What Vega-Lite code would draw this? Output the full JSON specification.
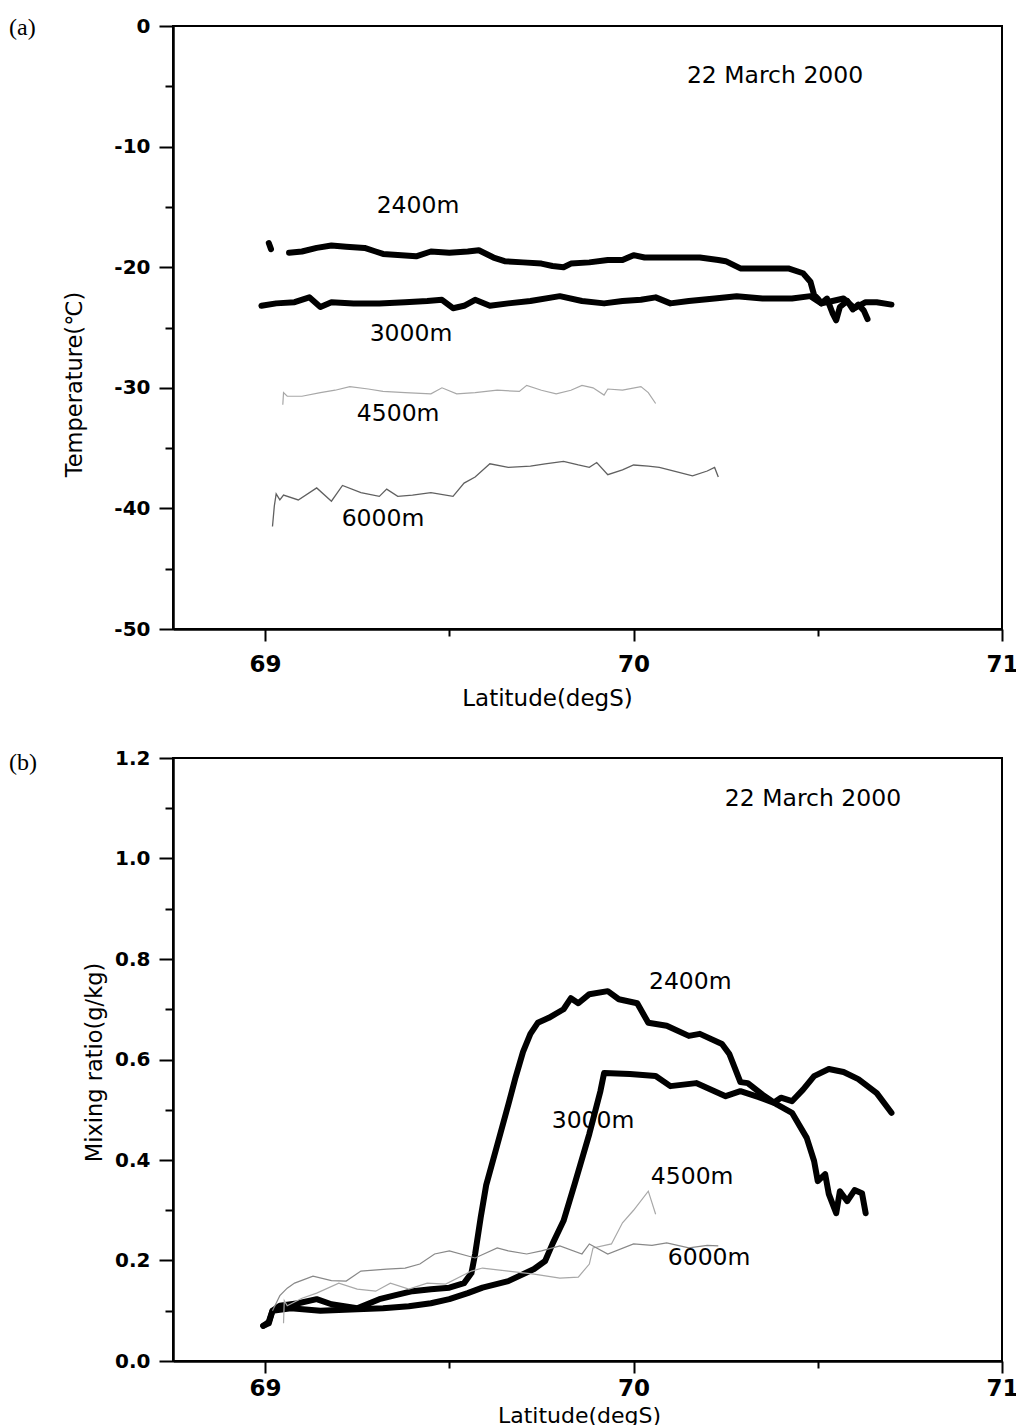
{
"$schema": "https://vega.github.io/schema/vega-lite/v6.json",
"background": "white",
"padding": {"left": 8, "top": 15, "right": 0, "bottom": 0},
"autosize": {"type": "pad"},
"spacing": 129,
"bounds": "flush",
"config": {
  "font": "DejaVu Sans",
  "view": {"stroke": "black", "strokeWidth": 2},
  "axis": {"grid": false, "labelFont": "DejaVu Sans", "labelFontWeight": "bold", "labelFontSize": 20, "labelColor": "black",
    "titleFont": "DejaVu Sans", "titleFontWeight": "normal", "titleFontSize": 22.5, "titleColor": "black",
    "domainColor": "black", "domainWidth": 2.5, "tickColor": "black", "tickWidth": 2, "labelFlush": false, "labelOverlap": false, "labelBound": false}
},
"datasets": {
"ta": [
{"s":"2400m","g":"2400a","lat":69.010,"v":-18.0},{"s":"2400m","g":"2400a","lat":69.016,"v":-18.5},
{"s":"2400m","g":"2400b","lat":69.065,"v":-18.8},{"s":"2400m","g":"2400b","lat":69.10,"v":-18.7},{"s":"2400m","g":"2400b","lat":69.14,"v":-18.4},{"s":"2400m","g":"2400b","lat":69.18,"v":-18.2},{"s":"2400m","g":"2400b","lat":69.22,"v":-18.3},{"s":"2400m","g":"2400b","lat":69.27,"v":-18.4},{"s":"2400m","g":"2400b","lat":69.30,"v":-18.7},{"s":"2400m","g":"2400b","lat":69.32,"v":-18.9},{"s":"2400m","g":"2400b","lat":69.37,"v":-19.0},{"s":"2400m","g":"2400b","lat":69.41,"v":-19.1},{"s":"2400m","g":"2400b","lat":69.45,"v":-18.7},{"s":"2400m","g":"2400b","lat":69.50,"v":-18.8},{"s":"2400m","g":"2400b","lat":69.55,"v":-18.7},{"s":"2400m","g":"2400b","lat":69.58,"v":-18.6},{"s":"2400m","g":"2400b","lat":69.62,"v":-19.2},{"s":"2400m","g":"2400b","lat":69.65,"v":-19.5},{"s":"2400m","g":"2400b","lat":69.70,"v":-19.6},{"s":"2400m","g":"2400b","lat":69.75,"v":-19.7},{"s":"2400m","g":"2400b","lat":69.78,"v":-19.9},{"s":"2400m","g":"2400b","lat":69.81,"v":-20.0},{"s":"2400m","g":"2400b","lat":69.83,"v":-19.7},{"s":"2400m","g":"2400b","lat":69.88,"v":-19.6},{"s":"2400m","g":"2400b","lat":69.93,"v":-19.4},{"s":"2400m","g":"2400b","lat":69.97,"v":-19.4},{"s":"2400m","g":"2400b","lat":70.00,"v":-19.0},{"s":"2400m","g":"2400b","lat":70.03,"v":-19.2},{"s":"2400m","g":"2400b","lat":70.10,"v":-19.2},{"s":"2400m","g":"2400b","lat":70.18,"v":-19.2},{"s":"2400m","g":"2400b","lat":70.23,"v":-19.4},{"s":"2400m","g":"2400b","lat":70.25,"v":-19.5},{"s":"2400m","g":"2400b","lat":70.29,"v":-20.1},{"s":"2400m","g":"2400b","lat":70.35,"v":-20.1},{"s":"2400m","g":"2400b","lat":70.42,"v":-20.1},{"s":"2400m","g":"2400b","lat":70.46,"v":-20.5},{"s":"2400m","g":"2400b","lat":70.48,"v":-21.2},{"s":"2400m","g":"2400b","lat":70.49,"v":-22.3},{"s":"2400m","g":"2400b","lat":70.50,"v":-22.6},{"s":"2400m","g":"2400b","lat":70.51,"v":-23.0},{"s":"2400m","g":"2400b","lat":70.525,"v":-22.6},{"s":"2400m","g":"2400b","lat":70.54,"v":-23.8},{"s":"2400m","g":"2400b","lat":70.55,"v":-24.4},{"s":"2400m","g":"2400b","lat":70.56,"v":-23.3},{"s":"2400m","g":"2400b","lat":70.58,"v":-22.8},{"s":"2400m","g":"2400b","lat":70.595,"v":-23.5},{"s":"2400m","g":"2400b","lat":70.61,"v":-23.1},{"s":"2400m","g":"2400b","lat":70.625,"v":-23.6},{"s":"2400m","g":"2400b","lat":70.635,"v":-24.3},
{"s":"3000m","g":"3000","lat":68.99,"v":-23.2},{"s":"3000m","g":"3000","lat":69.03,"v":-23.0},{"s":"3000m","g":"3000","lat":69.08,"v":-22.9},{"s":"3000m","g":"3000","lat":69.12,"v":-22.5},{"s":"3000m","g":"3000","lat":69.15,"v":-23.3},{"s":"3000m","g":"3000","lat":69.18,"v":-22.9},{"s":"3000m","g":"3000","lat":69.24,"v":-23.0},{"s":"3000m","g":"3000","lat":69.31,"v":-23.0},{"s":"3000m","g":"3000","lat":69.38,"v":-22.9},{"s":"3000m","g":"3000","lat":69.44,"v":-22.8},{"s":"3000m","g":"3000","lat":69.48,"v":-22.7},{"s":"3000m","g":"3000","lat":69.51,"v":-23.4},{"s":"3000m","g":"3000","lat":69.54,"v":-23.2},{"s":"3000m","g":"3000","lat":69.57,"v":-22.7},{"s":"3000m","g":"3000","lat":69.61,"v":-23.2},{"s":"3000m","g":"3000","lat":69.66,"v":-23.0},{"s":"3000m","g":"3000","lat":69.72,"v":-22.8},{"s":"3000m","g":"3000","lat":69.80,"v":-22.4},{"s":"3000m","g":"3000","lat":69.86,"v":-22.8},{"s":"3000m","g":"3000","lat":69.92,"v":-23.0},{"s":"3000m","g":"3000","lat":69.97,"v":-22.8},{"s":"3000m","g":"3000","lat":70.02,"v":-22.7},{"s":"3000m","g":"3000","lat":70.06,"v":-22.5},{"s":"3000m","g":"3000","lat":70.10,"v":-23.0},{"s":"3000m","g":"3000","lat":70.15,"v":-22.8},{"s":"3000m","g":"3000","lat":70.22,"v":-22.6},{"s":"3000m","g":"3000","lat":70.28,"v":-22.4},{"s":"3000m","g":"3000","lat":70.35,"v":-22.6},{"s":"3000m","g":"3000","lat":70.43,"v":-22.6},{"s":"3000m","g":"3000","lat":70.48,"v":-22.4},{"s":"3000m","g":"3000","lat":70.51,"v":-23.0},{"s":"3000m","g":"3000","lat":70.54,"v":-22.8},{"s":"3000m","g":"3000","lat":70.57,"v":-22.6},{"s":"3000m","g":"3000","lat":70.60,"v":-23.4},{"s":"3000m","g":"3000","lat":70.63,"v":-22.9},{"s":"3000m","g":"3000","lat":70.66,"v":-22.9},{"s":"3000m","g":"3000","lat":70.70,"v":-23.1},
{"s":"4500m","g":"4500","lat":69.048,"v":-31.4},{"s":"4500m","g":"4500","lat":69.050,"v":-30.4},{"s":"4500m","g":"4500","lat":69.06,"v":-30.7},{"s":"4500m","g":"4500","lat":69.10,"v":-30.7},{"s":"4500m","g":"4500","lat":69.15,"v":-30.4},{"s":"4500m","g":"4500","lat":69.19,"v":-30.2},{"s":"4500m","g":"4500","lat":69.23,"v":-29.9},{"s":"4500m","g":"4500","lat":69.28,"v":-30.1},{"s":"4500m","g":"4500","lat":69.32,"v":-30.3},{"s":"4500m","g":"4500","lat":69.38,"v":-30.4},{"s":"4500m","g":"4500","lat":69.45,"v":-30.5},{"s":"4500m","g":"4500","lat":69.48,"v":-30.0},{"s":"4500m","g":"4500","lat":69.52,"v":-30.5},{"s":"4500m","g":"4500","lat":69.57,"v":-30.4},{"s":"4500m","g":"4500","lat":69.63,"v":-30.2},{"s":"4500m","g":"4500","lat":69.69,"v":-30.3},{"s":"4500m","g":"4500","lat":69.71,"v":-29.8},{"s":"4500m","g":"4500","lat":69.75,"v":-30.2},{"s":"4500m","g":"4500","lat":69.79,"v":-30.5},{"s":"4500m","g":"4500","lat":69.83,"v":-30.2},{"s":"4500m","g":"4500","lat":69.86,"v":-29.8},{"s":"4500m","g":"4500","lat":69.89,"v":-30.0},{"s":"4500m","g":"4500","lat":69.92,"v":-30.6},{"s":"4500m","g":"4500","lat":69.93,"v":-30.1},{"s":"4500m","g":"4500","lat":69.97,"v":-30.2},{"s":"4500m","g":"4500","lat":70.02,"v":-29.9},{"s":"4500m","g":"4500","lat":70.04,"v":-30.4},{"s":"4500m","g":"4500","lat":70.06,"v":-31.3},
{"s":"6000m","g":"6000","lat":69.020,"v":-41.5},{"s":"6000m","g":"6000","lat":69.025,"v":-39.8},{"s":"6000m","g":"6000","lat":69.030,"v":-38.8},{"s":"6000m","g":"6000","lat":69.040,"v":-39.3},{"s":"6000m","g":"6000","lat":69.05,"v":-38.9},{"s":"6000m","g":"6000","lat":69.09,"v":-39.3},{"s":"6000m","g":"6000","lat":69.14,"v":-38.3},{"s":"6000m","g":"6000","lat":69.18,"v":-39.4},{"s":"6000m","g":"6000","lat":69.21,"v":-38.1},{"s":"6000m","g":"6000","lat":69.26,"v":-38.7},{"s":"6000m","g":"6000","lat":69.31,"v":-39.0},{"s":"6000m","g":"6000","lat":69.33,"v":-38.4},{"s":"6000m","g":"6000","lat":69.36,"v":-39.0},{"s":"6000m","g":"6000","lat":69.40,"v":-38.9},{"s":"6000m","g":"6000","lat":69.45,"v":-38.7},{"s":"6000m","g":"6000","lat":69.51,"v":-39.0},{"s":"6000m","g":"6000","lat":69.54,"v":-37.9},{"s":"6000m","g":"6000","lat":69.57,"v":-37.4},{"s":"6000m","g":"6000","lat":69.61,"v":-36.3},{"s":"6000m","g":"6000","lat":69.66,"v":-36.6},{"s":"6000m","g":"6000","lat":69.72,"v":-36.5},{"s":"6000m","g":"6000","lat":69.76,"v":-36.3},{"s":"6000m","g":"6000","lat":69.81,"v":-36.1},{"s":"6000m","g":"6000","lat":69.85,"v":-36.4},{"s":"6000m","g":"6000","lat":69.88,"v":-36.6},{"s":"6000m","g":"6000","lat":69.90,"v":-36.2},{"s":"6000m","g":"6000","lat":69.93,"v":-37.2},{"s":"6000m","g":"6000","lat":69.97,"v":-36.8},{"s":"6000m","g":"6000","lat":70.00,"v":-36.4},{"s":"6000m","g":"6000","lat":70.04,"v":-36.5},{"s":"6000m","g":"6000","lat":70.07,"v":-36.6},{"s":"6000m","g":"6000","lat":70.11,"v":-36.9},{"s":"6000m","g":"6000","lat":70.16,"v":-37.3},{"s":"6000m","g":"6000","lat":70.20,"v":-36.9},{"s":"6000m","g":"6000","lat":70.22,"v":-36.6},{"s":"6000m","g":"6000","lat":70.23,"v":-37.4}
],
"tb": [
{"s":"2400m","g":"2400","lat":68.995,"v":0.070},{"s":"2400m","g":"2400","lat":69.01,"v":0.075},{"s":"2400m","g":"2400","lat":69.02,"v":0.100},{"s":"2400m","g":"2400","lat":69.04,"v":0.110},{"s":"2400m","g":"2400","lat":69.09,"v":0.115},{"s":"2400m","g":"2400","lat":69.14,"v":0.123},{"s":"2400m","g":"2400","lat":69.18,"v":0.113},{"s":"2400m","g":"2400","lat":69.25,"v":0.105},{"s":"2400m","g":"2400","lat":69.31,"v":0.123},{"s":"2400m","g":"2400","lat":69.36,"v":0.132},{"s":"2400m","g":"2400","lat":69.40,"v":0.139},{"s":"2400m","g":"2400","lat":69.45,"v":0.143},{"s":"2400m","g":"2400","lat":69.50,"v":0.146},{"s":"2400m","g":"2400","lat":69.54,"v":0.155},{"s":"2400m","g":"2400","lat":69.56,"v":0.175},{"s":"2400m","g":"2400","lat":69.57,"v":0.213},{"s":"2400m","g":"2400","lat":69.585,"v":0.285},{"s":"2400m","g":"2400","lat":69.60,"v":0.350},{"s":"2400m","g":"2400","lat":69.63,"v":0.430},{"s":"2400m","g":"2400","lat":69.66,"v":0.510},{"s":"2400m","g":"2400","lat":69.68,"v":0.565},{"s":"2400m","g":"2400","lat":69.70,"v":0.615},{"s":"2400m","g":"2400","lat":69.72,"v":0.651},{"s":"2400m","g":"2400","lat":69.74,"v":0.673},{"s":"2400m","g":"2400","lat":69.77,"v":0.683},{"s":"2400m","g":"2400","lat":69.81,"v":0.700},{"s":"2400m","g":"2400","lat":69.83,"v":0.722},{"s":"2400m","g":"2400","lat":69.85,"v":0.712},{"s":"2400m","g":"2400","lat":69.88,"v":0.730},{"s":"2400m","g":"2400","lat":69.93,"v":0.736},{"s":"2400m","g":"2400","lat":69.96,"v":0.720},{"s":"2400m","g":"2400","lat":70.01,"v":0.712},{"s":"2400m","g":"2400","lat":70.04,"v":0.673},{"s":"2400m","g":"2400","lat":70.09,"v":0.667},{"s":"2400m","g":"2400","lat":70.15,"v":0.647},{"s":"2400m","g":"2400","lat":70.18,"v":0.651},{"s":"2400m","g":"2400","lat":70.24,"v":0.631},{"s":"2400m","g":"2400","lat":70.26,"v":0.611},{"s":"2400m","g":"2400","lat":70.29,"v":0.555},{"s":"2400m","g":"2400","lat":70.31,"v":0.553},{"s":"2400m","g":"2400","lat":70.35,"v":0.530},{"s":"2400m","g":"2400","lat":70.39,"v":0.510},{"s":"2400m","g":"2400","lat":70.43,"v":0.494},{"s":"2400m","g":"2400","lat":70.47,"v":0.444},{"s":"2400m","g":"2400","lat":70.49,"v":0.398},{"s":"2400m","g":"2400","lat":70.50,"v":0.358},{"s":"2400m","g":"2400","lat":70.52,"v":0.372},{"s":"2400m","g":"2400","lat":70.53,"v":0.332},{"s":"2400m","g":"2400","lat":70.55,"v":0.294},{"s":"2400m","g":"2400","lat":70.56,"v":0.338},{"s":"2400m","g":"2400","lat":70.58,"v":0.318},{"s":"2400m","g":"2400","lat":70.60,"v":0.340},{"s":"2400m","g":"2400","lat":70.62,"v":0.334},{"s":"2400m","g":"2400","lat":70.63,"v":0.294},
{"s":"3000m","g":"3000","lat":68.995,"v":0.070},{"s":"3000m","g":"3000","lat":69.01,"v":0.078},{"s":"3000m","g":"3000","lat":69.02,"v":0.100},{"s":"3000m","g":"3000","lat":69.07,"v":0.105},{"s":"3000m","g":"3000","lat":69.15,"v":0.100},{"s":"3000m","g":"3000","lat":69.25,"v":0.103},{"s":"3000m","g":"3000","lat":69.32,"v":0.105},{"s":"3000m","g":"3000","lat":69.39,"v":0.109},{"s":"3000m","g":"3000","lat":69.45,"v":0.115},{"s":"3000m","g":"3000","lat":69.50,"v":0.123},{"s":"3000m","g":"3000","lat":69.55,"v":0.135},{"s":"3000m","g":"3000","lat":69.59,"v":0.146},{"s":"3000m","g":"3000","lat":69.66,"v":0.159},{"s":"3000m","g":"3000","lat":69.73,"v":0.183},{"s":"3000m","g":"3000","lat":69.76,"v":0.199},{"s":"3000m","g":"3000","lat":69.78,"v":0.233},{"s":"3000m","g":"3000","lat":69.81,"v":0.279},{"s":"3000m","g":"3000","lat":69.84,"v":0.352},{"s":"3000m","g":"3000","lat":69.88,"v":0.452},{"s":"3000m","g":"3000","lat":69.91,"v":0.537},{"s":"3000m","g":"3000","lat":69.92,"v":0.573},{"s":"3000m","g":"3000","lat":69.99,"v":0.571},{"s":"3000m","g":"3000","lat":70.06,"v":0.567},{"s":"3000m","g":"3000","lat":70.10,"v":0.547},{"s":"3000m","g":"3000","lat":70.17,"v":0.553},{"s":"3000m","g":"3000","lat":70.25,"v":0.527},{"s":"3000m","g":"3000","lat":70.29,"v":0.537},{"s":"3000m","g":"3000","lat":70.34,"v":0.525},{"s":"3000m","g":"3000","lat":70.38,"v":0.514},{"s":"3000m","g":"3000","lat":70.40,"v":0.524},{"s":"3000m","g":"3000","lat":70.43,"v":0.517},{"s":"3000m","g":"3000","lat":70.46,"v":0.540},{"s":"3000m","g":"3000","lat":70.49,"v":0.567},{"s":"3000m","g":"3000","lat":70.53,"v":0.581},{"s":"3000m","g":"3000","lat":70.57,"v":0.575},{"s":"3000m","g":"3000","lat":70.61,"v":0.561},{"s":"3000m","g":"3000","lat":70.66,"v":0.533},{"s":"3000m","g":"3000","lat":70.70,"v":0.494},
{"s":"4500m","g":"4500","lat":69.050,"v":0.075},{"s":"4500m","g":"4500","lat":69.052,"v":0.120},{"s":"4500m","g":"4500","lat":69.06,"v":0.110},{"s":"4500m","g":"4500","lat":69.10,"v":0.125},{"s":"4500m","g":"4500","lat":69.14,"v":0.135},{"s":"4500m","g":"4500","lat":69.20,"v":0.155},{"s":"4500m","g":"4500","lat":69.25,"v":0.143},{"s":"4500m","g":"4500","lat":69.30,"v":0.139},{"s":"4500m","g":"4500","lat":69.34,"v":0.155},{"s":"4500m","g":"4500","lat":69.39,"v":0.143},{"s":"4500m","g":"4500","lat":69.44,"v":0.155},{"s":"4500m","g":"4500","lat":69.49,"v":0.153},{"s":"4500m","g":"4500","lat":69.56,"v":0.179},{"s":"4500m","g":"4500","lat":69.59,"v":0.185},{"s":"4500m","g":"4500","lat":69.66,"v":0.179},{"s":"4500m","g":"4500","lat":69.73,"v":0.173},{"s":"4500m","g":"4500","lat":69.80,"v":0.165},{"s":"4500m","g":"4500","lat":69.85,"v":0.167},{"s":"4500m","g":"4500","lat":69.88,"v":0.193},{"s":"4500m","g":"4500","lat":69.89,"v":0.225},{"s":"4500m","g":"4500","lat":69.94,"v":0.233},{"s":"4500m","g":"4500","lat":69.97,"v":0.275},{"s":"4500m","g":"4500","lat":70.00,"v":0.300},{"s":"4500m","g":"4500","lat":70.04,"v":0.338},{"s":"4500m","g":"4500","lat":70.06,"v":0.292},
{"s":"6000m","g":"6000","lat":69.02,"v":0.100},{"s":"6000m","g":"6000","lat":69.04,"v":0.130},{"s":"6000m","g":"6000","lat":69.06,"v":0.145},{"s":"6000m","g":"6000","lat":69.08,"v":0.155},{"s":"6000m","g":"6000","lat":69.13,"v":0.169},{"s":"6000m","g":"6000","lat":69.18,"v":0.160},{"s":"6000m","g":"6000","lat":69.22,"v":0.159},{"s":"6000m","g":"6000","lat":69.26,"v":0.179},{"s":"6000m","g":"6000","lat":69.33,"v":0.183},{"s":"6000m","g":"6000","lat":69.38,"v":0.185},{"s":"6000m","g":"6000","lat":69.42,"v":0.193},{"s":"6000m","g":"6000","lat":69.46,"v":0.213},{"s":"6000m","g":"6000","lat":69.50,"v":0.219},{"s":"6000m","g":"6000","lat":69.57,"v":0.205},{"s":"6000m","g":"6000","lat":69.63,"v":0.225},{"s":"6000m","g":"6000","lat":69.66,"v":0.219},{"s":"6000m","g":"6000","lat":69.71,"v":0.213},{"s":"6000m","g":"6000","lat":69.75,"v":0.219},{"s":"6000m","g":"6000","lat":69.80,"v":0.229},{"s":"6000m","g":"6000","lat":69.86,"v":0.213},{"s":"6000m","g":"6000","lat":69.88,"v":0.233},{"s":"6000m","g":"6000","lat":69.93,"v":0.213},{"s":"6000m","g":"6000","lat":70.00,"v":0.233},{"s":"6000m","g":"6000","lat":70.05,"v":0.230},{"s":"6000m","g":"6000","lat":70.09,"v":0.235},{"s":"6000m","g":"6000","lat":70.15,"v":0.225},{"s":"6000m","g":"6000","lat":70.20,"v":0.230},{"s":"6000m","g":"6000","lat":70.23,"v":0.229}
],
"la": [
{"t":"22 March 2000","lat":70.384,"v":-4.15},{"t":"2400m","lat":69.415,"v":-14.93},{"t":"3000m","lat":69.396,"v":-25.54},{"t":"4500m","lat":69.361,"v":-32.17},{"t":"6000m","lat":69.320,"v":-40.88}
],
"lb": [
{"t":"22 March 2000","lat":70.487,"v":1.118},{"t":"2400m","lat":70.154,"v":0.754},{"t":"3000m","lat":69.890,"v":0.478},{"t":"4500m","lat":70.159,"v":0.366},{"t":"6000m","lat":70.205,"v":0.205}
],
"pa": [{"t":"(a)","lat":68.305,"v":-0.17}],
"pb": [{"t":"(b)","lat":68.305,"v":1.19}]
},
"vconcat": [
{
  "width": 829, "height": 603,
  "resolve": {"axis": {"x": "independent", "y": "independent"}},
  "layer": [
    {"data": {"name": "ta"}, "transform": [{"filter": {"field": "s", "oneOf": ["2400m", "3000m"]}}],
     "mark": {"type": "line", "strokeWidth": 6, "color": "black", "strokeCap": "round", "strokeJoin": "round"},
     "encoding": {
       "x": {"field": "lat", "type": "quantitative", "scale": {"domain": [68.75, 71], "nice": false, "zero": false},
             "axis": {"orient": "bottom", "values": [69, 70, 71], "tickSize": 12, "labelPadding": 12, "labelFontSize": 23, "title": "Latitude(degS)", "titleFontSize": 23, "titleX": 374, "titleY": 69, "titleBaseline": "middle", "titleAlign": "center", "titleAnchor": null}},
       "y": {"field": "v", "type": "quantitative", "scale": {"domain": [-50, 0], "nice": false, "zero": false},
             "axis": {"orient": "left", "values": [-50, -40, -30, -20, -10, 0], "labelExpr": "'' + datum.value", "tickSize": 14, "labelPadding": 9, "title": "Temperature(℃)", "titleX": -99, "titleY": 358, "titleBaseline": "middle", "titleAlign": "center", "titleAngle": -90}},
       "detail": {"field": "g"}
     }},
    {"data": {"name": "ta"}, "transform": [{"filter": {"field": "s", "equal": "4500m"}}],
     "mark": {"type": "line", "strokeWidth": 1.2, "color": "#a8a8a8"},
     "encoding": {
       "x": {"field": "lat", "type": "quantitative", "axis": {"orient": "bottom", "values": [69.5, 70.5], "tickSize": 7, "labels": false, "domain": false, "title": null}},
       "y": {"field": "v", "type": "quantitative", "axis": {"orient": "left", "values": [-45, -35, -25, -15, -5], "tickSize": 8, "labels": false, "domain": false, "title": null}}
     }},
    {"data": {"name": "ta"}, "transform": [{"filter": {"field": "s", "equal": "6000m"}}],
     "mark": {"type": "line", "strokeWidth": 1.3, "color": "#606060"},
     "encoding": {
       "x": {"field": "lat", "type": "quantitative", "axis": null},
       "y": {"field": "v", "type": "quantitative", "axis": null}
     }},
    {"data": {"name": "la"},
     "mark": {"type": "text", "fontSize": 23.5, "font": "DejaVu Sans", "align": "center", "baseline": "middle", "color": "black"},
     "encoding": {
       "x": {"field": "lat", "type": "quantitative", "axis": null},
       "y": {"field": "v", "type": "quantitative", "axis": null},
       "text": {"field": "t"}
     }},
    {"data": {"name": "pa"},
     "mark": {"type": "text", "fontSize": 24, "font": "Liberation Serif", "align": "left", "baseline": "middle", "color": "black"},
     "encoding": {
       "x": {"field": "lat", "type": "quantitative", "axis": null},
       "y": {"field": "v", "type": "quantitative", "axis": null},
       "text": {"field": "t"}
     }}
  ]
},
{
  "width": 829, "height": 603,
  "resolve": {"axis": {"x": "independent", "y": "independent"}},
  "layer": [
    {"data": {"name": "tb"}, "transform": [{"filter": {"field": "s", "oneOf": ["2400m", "3000m"]}}],
     "mark": {"type": "line", "strokeWidth": 6, "color": "black", "strokeCap": "round", "strokeJoin": "round"},
     "encoding": {
       "x": {"field": "lat", "type": "quantitative", "scale": {"domain": [68.75, 71], "nice": false, "zero": false},
             "axis": {"orient": "bottom", "values": [69, 70, 71], "tickSize": 12, "labelPadding": 4, "labelFontSize": 23, "title": "Latitude(degS)", "titleFontSize": 22, "titleX": 406, "titleY": 54, "titleBaseline": "middle", "titleAlign": "center", "titleAnchor": null}},
       "y": {"field": "v", "type": "quantitative", "scale": {"domain": [0, 1.2], "nice": false, "zero": false},
             "axis": {"orient": "left", "values": [0, 0.2, 0.4, 0.6, 0.8, 1.0, 1.2], "format": ".1f", "tickSize": 14, "labelPadding": 9, "title": "Mixing ratio(g/kg)", "titleX": -79, "titleY": 304, "titleBaseline": "middle", "titleAlign": "center", "titleAngle": -90}},
       "detail": {"field": "g"}
     }},
    {"data": {"name": "tb"}, "transform": [{"filter": {"field": "s", "equal": "4500m"}}],
     "mark": {"type": "line", "strokeWidth": 1.2, "color": "#a8a8a8"},
     "encoding": {
       "x": {"field": "lat", "type": "quantitative", "axis": {"orient": "bottom", "values": [69.5, 70.5], "tickSize": 7, "labels": false, "domain": false, "title": null}},
       "y": {"field": "v", "type": "quantitative", "axis": {"orient": "left", "values": [0.1, 0.3, 0.5, 0.7, 0.9, 1.1], "tickSize": 8, "labels": false, "domain": false, "title": null}}
     }},
    {"data": {"name": "tb"}, "transform": [{"filter": {"field": "s", "equal": "6000m"}}],
     "mark": {"type": "line", "strokeWidth": 1.2, "color": "#888888"},
     "encoding": {
       "x": {"field": "lat", "type": "quantitative", "axis": null},
       "y": {"field": "v", "type": "quantitative", "axis": null}
     }},
    {"data": {"name": "lb"},
     "mark": {"type": "text", "fontSize": 23.5, "font": "DejaVu Sans", "align": "center", "baseline": "middle", "color": "black"},
     "encoding": {
       "x": {"field": "lat", "type": "quantitative", "axis": null},
       "y": {"field": "v", "type": "quantitative", "axis": null},
       "text": {"field": "t"}
     }},
    {"data": {"name": "pb"},
     "mark": {"type": "text", "fontSize": 24, "font": "Liberation Serif", "align": "left", "baseline": "middle", "color": "black"},
     "encoding": {
       "x": {"field": "lat", "type": "quantitative", "axis": null},
       "y": {"field": "v", "type": "quantitative", "axis": null},
       "text": {"field": "t"}
     }}
  ]
}
]
}
